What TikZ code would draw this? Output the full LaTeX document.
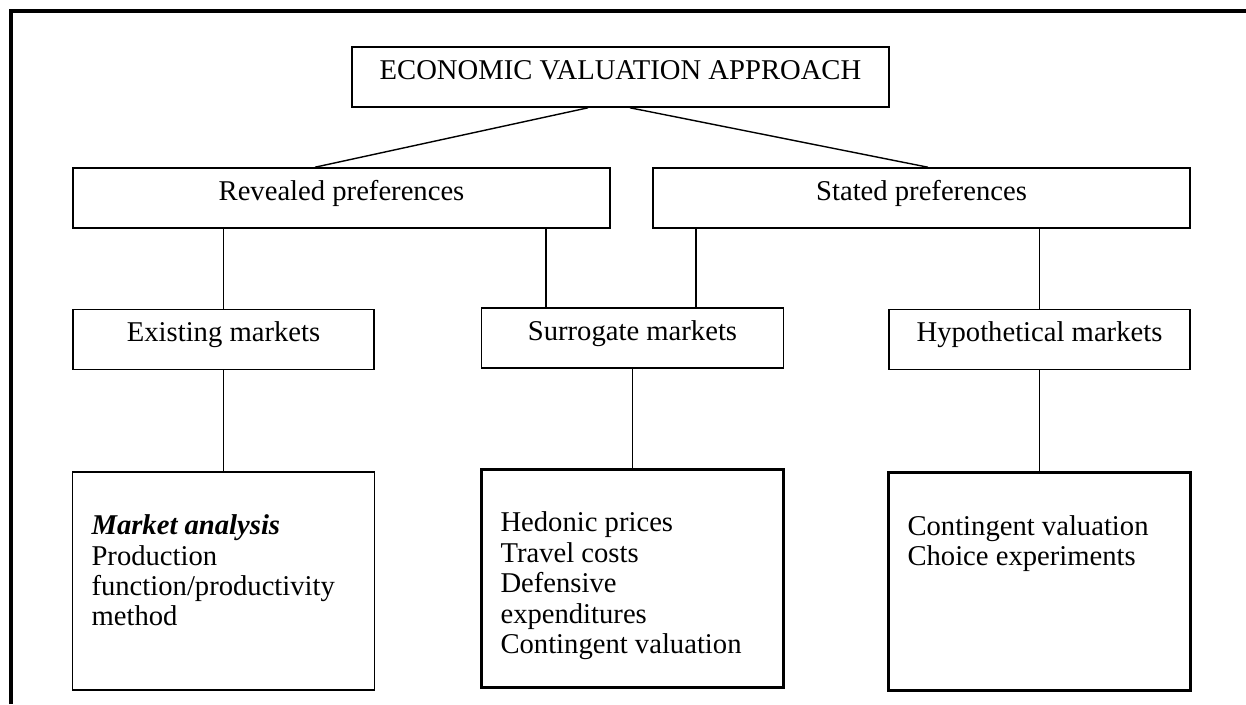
\documentclass[tikz,border=0pt]{standalone}
\usepackage{fontspec}
\setmainfont{Liberation Serif}
\usepackage{tikz}
\usetikzlibrary{positioning}
\tikzset{basic/.style={draw,line width=0.9pt,inner sep=0pt,text height=1.5ex,text depth=0.9ex}}
\tikzset{branch/.style={basic,minimum width=10.74cm,minimum height=1.2cm}}
\newcommand{\methodlist}[1]{\parbox[c][4.36cm][t]{5.28cm}{\rule{0pt}{1.25cm}#1}}

\begin{document}
\begin{tikzpicture}[
    x=0.02cm, y=-0.02cm,                   % one unit is one pixel of the page
    font=\fontsize{16.3pt}{17.3pt}\selectfont,
    node distance=1.6cm
  ]

  % Styles for the lower levels
  \tikzset{
    market/.style={basic, minimum width=6.02cm, minimum height=1.2cm},
    method/.style={draw, line width=1.8pt, inner xsep=0.38cm, inner ysep=0pt},
    link/.style={draw, line width=0.8pt},
    frame/.style={draw, line width=2pt}
  }

  \useasboundingbox (0,0) rectangle (1246,704);

  % Page frame
  \draw[frame] (11,704) -- (11,11) -- (1246,11);

  % Approach and the two preference branches
  \node (approach) [branch] at (620.5,77) {ECONOMIC VALUATION APPROACH};
  \node (revealed) [branch] at (341.5,198) {Revealed preferences};
  \node (stated) [branch] at (921.5,198) {Stated preferences};

  % Markets
  \node (existing) [market, below=of revealed.south west, anchor=north west] {Existing markets};
  \node (surrogate) [market, minimum width=6.04cm] at (632.5,338) {Surrogate markets};
  \node (hypothetical) [market, below=of stated.south east, anchor=north east] {Hypothetical markets};

  % Valuation methods
  \node (analysis) [method, line width=1pt, below=2.02cm of existing]
    {\methodlist{\textbf{\textit{Market analysis}}\\ Production\\ function/productivity\\ method}};
  \node (surrogateList) [method, below=1.98cm of surrogate]
    {\methodlist{Hedonic prices\\ Travel costs\\ Defensive\\ expenditures\\ Contingent valuation}};
  \node (hypoList) [method, below=2.02cm of hypothetical]
    {\methodlist{Contingent valuation\\ Choice experiments}};

  % Connectors
  \draw[link] ([xshift=-0.65cm]approach.south) -- ([xshift=-0.53cm]revealed.north);
  \draw[link] ([xshift=0.19cm]approach.south) -- ([xshift=0.13cm]stated.north);
  \draw[link] (revealed.south -| existing.north) -- (existing.north);
  \draw[link] ([xshift=-1.73cm]surrogate.north) -- ([xshift=-1.73cm]surrogate.north |- revealed.south);
  \draw[link] ([xshift=1.27cm]surrogate.north) -- ([xshift=1.27cm]surrogate.north |- stated.south);
  \draw[link] (stated.south -| hypothetical.north) -- (hypothetical.north);
  \draw[link] (existing) -- (analysis);
  \draw[link] (surrogate) -- (surrogateList);
  \draw[link] (hypothetical) -- (hypoList);

\end{tikzpicture}
\end{document}
